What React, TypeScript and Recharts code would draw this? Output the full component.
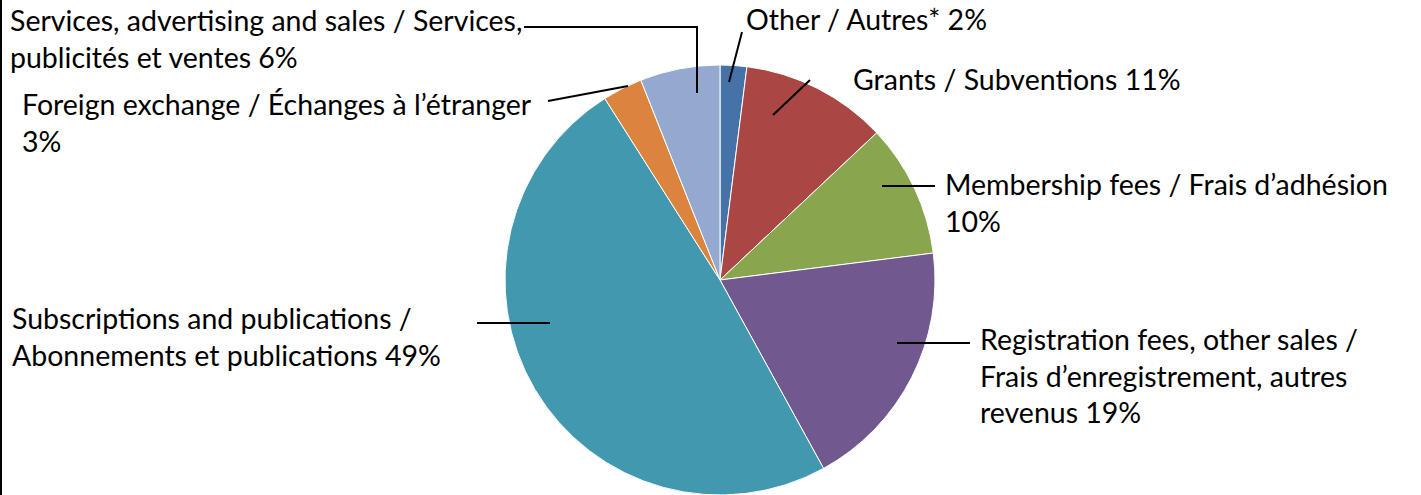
import { Cell, Pie, PieChart } from "recharts";

const categories = [
  "Other / Autres*",
  "Grants / Subventions",
  "Membership fees / Frais d’adhésion",
  "Registration fees, other sales / Frais d’enregistrement, autres revenus",
  "Subscriptions and publications / Abonnements et publications",
  "Foreign exchange / Échanges à l’étranger",
  "Services, advertising and sales / Services, publicités et ventes",
];
const shares = [2, 11, 10, 19, 49, 3, 6];
const colors = ["#4572A7", "#AA4643", "#89A54E", "#71588F", "#4198AF", "#DB843D", "#93A9CF"];

// label text broken into lines as in the original
const labelText: string[][] = [
  ["Other / Autres* 2%"],
  ["Grants / Subventions 11%"],
  ["Membership fees / Frais d’adhésion", "10%"],
  ["Registration fees, other sales /", "Frais d’enregistrement, autres", "revenus 19%"],
  ["Subscriptions and publications /", "Abonnements et publications 49%"],
  ["Foreign exchange / Échanges à l’étranger", "3%"],
  ["Services, advertising and sales / Services,", "publicités et ventes 6%"],
];

// where each label sits and how its leader line runs
const labelLayout = [
  { x: 746, y: 30, lead: [[729, 82], [742, 32]] },
  { x: 853, y: 90, lead: [[773, 115], [810, 80]] },
  { x: 945, y: 195, lead: [[882, 186], [935, 186]] },
  { x: 980, y: 350, lead: [[897, 343], [970, 343]] },
  { x: 12, y: 329, lead: [[477, 323], [550, 323]] },
  { x: 22, y: 115, lead: [[548, 101], [628, 86]] },
  { x: 10, y: 31, lead: [[697, 93], [697, 27], [524, 27]] },
];

const data = categories.map((name, i) => ({ name, value: shares[i] }));

const FONT = "Lato, sans-serif";

function renderLabel(props: any) {
  const i = props.index as number;
  const lay = labelLayout[i];
  const lines = labelText[i];
  return (
    <g key={`lbl-${i}`}>
      <polyline
        points={lay.lead.map((p) => p.join(",")).join(" ")}
        fill="none"
        stroke="#000"
        strokeWidth={2}
      />
      <text x={lay.x} y={lay.y} fontFamily={FONT} fontSize={28.5} fill="#000">
        {lines.map((t, k) => (
          <tspan key={k} x={lay.x} dy={k === 0 ? 0 : 36.5}>
            {t}
          </tspan>
        ))}
      </text>
    </g>
  );
}

export default function App() {
  return (
    <div style={{ position: "absolute", left: 0, top: 0, width: 1421, height: 495, background: "#fff" }}>
      <div style={{ position: "absolute", left: 0, top: 0, width: 2, height: 495, background: "#000" }} />
      <PieChart width={1421} height={495} margin={{ top: 0, right: 0, bottom: 0, left: 0 }}>
        <Pie
          data={data}
          dataKey="value"
          nameKey="name"
          cx={720}
          cy={280}
          outerRadius={215}
          startAngle={90}
          endAngle={-270}
          stroke="#fff"
          strokeWidth={1}
          label={renderLabel}
          labelLine={false}
          isAnimationActive={false}
        >
          {data.map((d, i) => (
            <Cell key={d.name} fill={colors[i]} />
          ))}
        </Pie>
      </PieChart>
    </div>
  );
}
